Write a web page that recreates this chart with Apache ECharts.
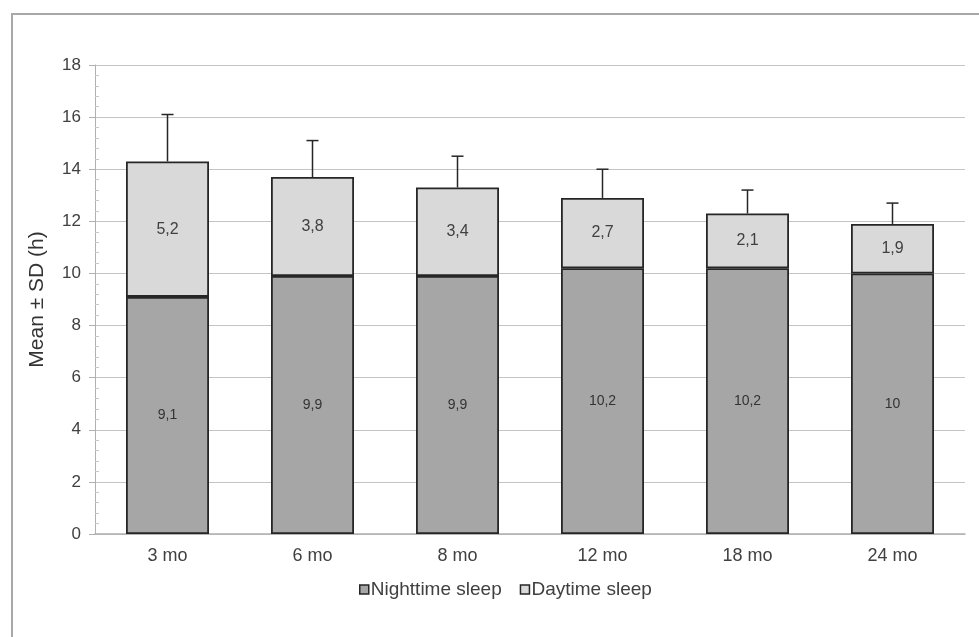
<!DOCTYPE html>
<html><head><meta charset="utf-8">
<script src="https://cdn.jsdelivr.net/npm/echarts@6/dist/echarts.min.js"></script>
<style>html,body{margin:0;padding:0;background:#fff}#c{width:979px;height:637px}</style>
</head><body><div id="c"></div>
<script>
var categories = ['3 mo','6 mo','8 mo','12 mo','18 mo','24 mo'];
var nighttime = [9.1, 9.9, 9.9, 10.2, 10.2, 10];
var daytime = [5.2, 3.8, 3.4, 2.7, 2.1, 1.9];
var sdTotal = [1.8, 1.4, 1.2, 1.1, 0.9, 0.8];
var yTicks = {min: 0, max: 18, interval: 2};

var chart = echarts.init(document.getElementById('c'), null, {renderer: 'canvas'});
var errData = categories.map(function (c, i) {
  var tot = nighttime[i] + daytime[i];
  return [i, tot, tot + sdTotal[i]];
});
var fmt = function (p) { return String(p.value).replace('.', ','); };
var font = 'Liberation Sans, Arial, sans-serif';
chart.setOption({
  animation: false,
  graphic: [{type: 'rect', shape: {x: 12, y: 14, width: 1000, height: 700}, style: {fill: 'none', stroke: '#a8a8a8', lineWidth: 2}, z: -10}],
  grid: {left: 95, right: 14, top: 65, bottom: 103},
  legend: {
    bottom: 33, left: 354, itemWidth: 9, itemHeight: 9, itemGap: 18,
    icon: 'rect',
    textStyle: {fontFamily: font, fontSize: 19, color: '#404040', padding: [0, 0, 0, -3]},
    data: [
      {name: 'Nighttime sleep', itemStyle: {color: '#a6a6a6', borderColor: '#262626', borderWidth: 1.5}},
      {name: 'Daytime sleep', itemStyle: {color: '#d9d9d9', borderColor: '#262626', borderWidth: 1.5}}
    ]
  },
  xAxis: {
    type: 'category', data: categories,
    axisLine: {lineStyle: {color: '#b0b0b0', width: 1.5}},
    axisTick: {show: false},
    axisLabel: {fontFamily: font, fontSize: 18, color: '#404040', margin: 13}
  },
  yAxis: [{
    type: 'value', min: yTicks.min, max: yTicks.max, interval: yTicks.interval,
    name: 'Mean ± SD (h)', nameLocation: 'middle', nameGap: 47,
    nameTextStyle: {fontFamily: font, fontSize: 21, color: '#333'},
    axisLine: {show: true, lineStyle: {color: '#b0b0b0'}},
    axisTick: {show: true, length: 6, lineStyle: {color: '#b0b0b0'}},
    axisLabel: {fontFamily: font, fontSize: 17, color: '#404040', margin: 14},
    splitLine: {lineStyle: {color: '#c4c4c4', width: 1.2}}
  }, {
    type: 'value', min: yTicks.min, max: yTicks.max, interval: yTicks.interval,
    position: 'left', offset: 0,
    axisLine: {show: false},
    axisTick: {show: false, inside: true},
    minorTick: {show: true, splitNumber: 5, length: 4, lineStyle: {color: '#c8c8c8'}},
    axisLabel: {show: false}, splitLine: {show: false}
  }],
  series: [{
    name: 'Nighttime sleep', type: 'bar', stack: 'a', barWidth: 83, data: nighttime,
    itemStyle: {color: '#a6a6a6', borderColor: '#262626', borderWidth: 1.8},
    label: {show: true, position: 'inside', formatter: fmt, fontFamily: font, fontSize: 14, color: '#333'}
  }, {
    name: 'Daytime sleep', type: 'bar', stack: 'a', barWidth: 83, data: daytime,
    itemStyle: {color: '#d9d9d9', borderColor: '#262626', borderWidth: 1.8},
    label: {show: true, position: 'inside', formatter: fmt, fontFamily: font, fontSize: 16, color: '#404040'}
  }, {
    name: 'SD', type: 'custom', data: errData, z: 1,
    renderItem: function (params, api) {
      var x = api.value(0);
      var p0 = api.coord([x, api.value(1)]);
      var p1 = api.coord([x, api.value(2)]);
      var s = {stroke: '#262626', lineWidth: 1.5};
      return {type: 'group', children: [
        {type: 'line', shape: {x1: p0[0], y1: p0[1], x2: p1[0], y2: p1[1]}, style: s},
        {type: 'line', shape: {x1: p1[0] - 6, y1: p1[1], x2: p1[0] + 6, y2: p1[1]}, style: s}
      ]};
    },
    encode: {x: 0, y: [1, 2]}
  }]
});
</script></body></html>
